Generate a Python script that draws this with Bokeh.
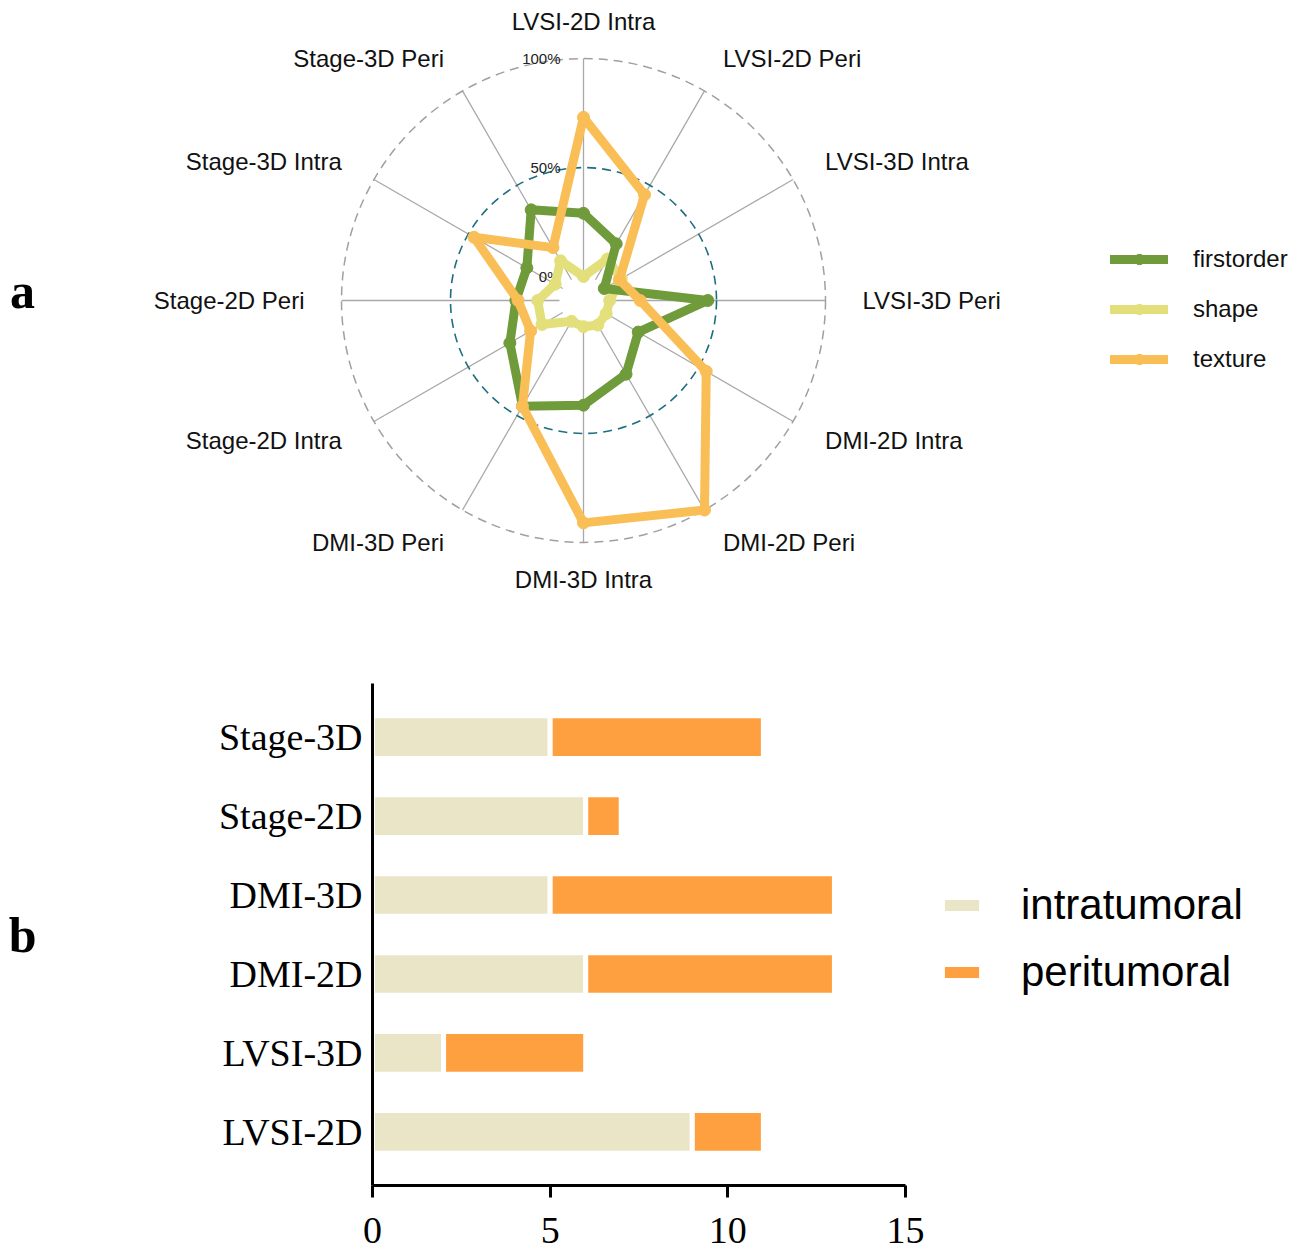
import numpy as np
from bokeh.plotting import figure
from bokeh.layouts import row
from bokeh.models import (Range1d, Legend, LegendItem, Label, FixedTicker, ColumnDataSource,
                          LinearAxis)
from bokeh.core.properties import value
from bokeh.embed import file_html
from bokeh.resources import INLINE

# ---------------- data ----------------
spoke_labels = ["LVSI-2D Intra", "LVSI-2D Peri", "LVSI-3D Intra", "LVSI-3D Peri",
                "DMI-2D Intra", "DMI-2D Peri", "DMI-3D Intra", "DMI-3D Peri",
                "Stage-2D Intra", "Stage-2D Peri", "Stage-3D Intra", "Stage-3D Peri"]
firstorder = [0.29, 0.19, 0.00, 0.46, 0.18, 0.28, 0.37, 0.45, 0.28, 0.20, 0.19, 0.37]
shape = [0.00, 0.11, 0.09, 0.01, 0.01, 0.02, 0.01, 0.00, 0.11, 0.10, 0.04, 0.10]
texture = [0.73, 0.45, 0.08, 0.15, 0.54, 1.00, 0.91, 0.45, 0.17, 0.19, 0.47, 0.17]
radial_ticks = [0.0, 0.5, 1.0]
radial_tick_labels = ["0%", "50%", "100%"]

models = ["LVSI-2D", "LVSI-3D", "DMI-2D", "DMI-3D", "Stage-2D", "Stage-3D"]
intratumoral = [9, 2, 6, 5, 6, 5]
peritumoral = [2, 4, 7, 8, 1, 6]
count_ticks = [0, 5, 10, 15]

# ---------------- radar (panel a) ----------------
SANS = value("Liberation Sans")
R0, R1, R_LABEL = 24.0, 242.0, 279.0     # radial scale: 0% .. 100%, label ring (px)


def radius(v):
    return R0 + (R1 - R0) * np.asarray(v, dtype=float)


n = len(spoke_labels)
theta = 2 * np.pi * np.arange(n) / n      # clockwise from 12 o'clock

pa = figure(width=1308, height=620, x_range=Range1d(-583, 725), y_range=Range1d(-320, 300),
            x_axis_location=None, y_axis_location=None, min_border=0,
            output_backend="svg", toolbar_location=None, outline_line_color=None)
pa.grid.visible = False

# spokes
pa.segment(x0=R0 * np.sin(theta), y0=R0 * np.cos(theta),
           x1=R1 * np.sin(theta), y1=R1 * np.cos(theta),
           line_color="#a9a9a9", line_width=1.3)
# outer (100%) ring and 50% ring
pa.circle(x=[0], y=[0], radius=[float(radius(1.0))], fill_color=None,
          line_color="#a0a0a0", line_width=1.5, line_dash="9 6")
pa.circle(x=[0], y=[0], radius=[float(radius(0.5))], fill_color=None,
          line_color="#1d6f7f", line_width=1.6, line_dash="9 6")

# radial tick labels along the top spoke
pa.text(x=[0] * len(radial_ticks), y=radius(radial_ticks), text=radial_tick_labels,
        x_offset=-23, text_align="right", text_baseline="middle",
        text_font=SANS, text_font_size="15px", text_color="#222222")

# spoke labels
align = ["center" if i in (0, n // 2) else ("left" if i < n // 2 else "right") for i in range(n)]
pa.text(x=R_LABEL * np.sin(theta), y=R_LABEL * np.cos(theta), text=spoke_labels,
        text_align=align, text_baseline="middle",
        text_font=SANS, text_font_size="24px", text_color="#111111")

series = {"firstorder": (firstorder, "#6f9b3a"),
          "shape": (shape, "#e3e07c"),
          "texture": (texture, "#f9be55")}
renderers = {}
for name in ["shape", "firstorder", "texture"]:
    vals, color = series[name]
    r = radius(vals)
    xs = np.append(r * np.sin(theta), r[0] * np.sin(theta[0]))
    ys = np.append(r * np.cos(theta), r[0] * np.cos(theta[0]))
    ln = pa.line(xs, ys, line_color=color, line_width=9, line_join="round", line_cap="round")
    mk = pa.scatter(r * np.sin(theta), r * np.cos(theta), size=12,
                    fill_color=color, line_color=color)
    renderers[name] = [ln, mk]

leg_a = Legend(items=[LegendItem(label=k, renderers=renderers[k]) for k in series],
               location=(1110, 247), glyph_width=58, glyph_height=26, label_height=26,
               label_standoff=25, spacing=22, padding=0, margin=0,
               label_text_font="Liberation Sans", label_text_font_size="24px",
               label_text_color="#111111", border_line_color=None, background_fill_alpha=0)
pa.add_layout(leg_a)

pa.add_layout(Label(x=22, y=330, x_units="screen", y_units="screen", text="a",
                    text_align="center", text_baseline="middle", text_font="Liberation Serif",
                    text_font_style="bold", text_font_size="50px", text_color="black"))

# ---------------- stacked bars (panel b) ----------------
SERIF = "Liberation Serif"
INTRA_COLOR, PERI_COLOR = "#ebe5c8", "#ffa040"
pos = list(range(len(models)))
src = ColumnDataSource(dict(y=pos, intra=intratumoral,
                            total=[a + b for a, b in zip(intratumoral, peritumoral)]))

pb = figure(width=925, height=625, x_range=Range1d(0, 15), y_range=Range1d(-0.68, 5.68),
            min_border_left=372, min_border_right=20, min_border_top=63, min_border_bottom=60,
            output_backend="svg", toolbar_location=None, outline_line_color=None)
pb.grid.visible = False

pb.hbar(y="y", left=0, right="intra", height=0.54, source=src,
        fill_color=INTRA_COLOR, line_color="white", line_width=5)
pb.hbar(y="y", left="intra", right="total", height=0.54, source=src,
        fill_color=PERI_COLOR, line_color="white", line_width=5)

pb.xaxis.ticker = FixedTicker(ticks=count_ticks)
pb.xaxis.minor_tick_line_color = None
pb.xaxis.major_tick_in = 0
pb.xaxis.major_tick_out = 12
pb.xaxis.major_tick_line_width = 3
pb.xaxis.major_label_standoff = 20
pb.xaxis.major_label_text_font = SERIF
pb.xaxis.major_label_text_font_size = "38px"

pb.yaxis.ticker = FixedTicker(ticks=pos)
pb.yaxis.major_label_overrides = {i: m for i, m in zip(pos, models)}
pb.yaxis.minor_tick_line_color = None
pb.yaxis.major_tick_line_color = None
pb.yaxis.major_tick_in = 0
pb.yaxis.major_tick_out = 0
pb.yaxis.major_label_standoff = 10
pb.yaxis.major_label_text_font = SERIF
pb.yaxis.major_label_text_font_size = "38px"

for ax in (pb.xaxis, pb.yaxis):
    ax.axis_line_width = 3
    ax.axis_line_color = "black"
    ax.major_label_text_color = "black"

# panel letter, carried by a bare axis on the far left
pb.extra_y_ranges = {"tag": Range1d(0, 502)}
tag_axis = LinearAxis(y_range_name="tag", ticker=FixedTicker(ticks=[]),
                      axis_line_color=None, major_tick_line_color=None,
                      minor_tick_line_color=None, major_tick_out=0, minor_tick_out=0,
                      major_label_standoff=0, axis_label="b",
                      axis_label_orientation="horizontal", axis_label_standoff=179,
                      axis_label_text_font=SERIF, axis_label_text_font_style="bold",
                      axis_label_text_font_size="50px", axis_label_text_color="black")
pb.add_layout(tag_axis, "left")

# key for panel b, in its own pixel-scaled strip to the right of the bars;
# its swatch renderers share the bar data but stay hidden
pk = figure(width=383, height=625, x_range=Range1d(0, 383), y_range=Range1d(0, 502),
            x_axis_location=None, y_axis_location=None,
            min_border_left=0, min_border_right=0, min_border_top=63, min_border_bottom=60,
            output_backend="svg", toolbar_location=None, outline_line_color=None)
pk.grid.visible = False
k_intra = pk.hbar(y="y", left=0, right="intra", height=0.54, source=src,
                  fill_color=INTRA_COLOR, line_color="white", line_width=5, visible=False)
k_peri = pk.hbar(y="y", left="intra", right="total", height=0.54, source=src,
                 fill_color=PERI_COLOR, line_color="white", line_width=5, visible=False)
leg_b = Legend(items=[LegendItem(label="intratumoral", renderers=[k_intra]),
                      LegendItem(label="peritumoral", renderers=[k_peri])],
               location=(12, 188), glyph_width=49, glyph_height=20, label_height=50,
               label_standoff=35, spacing=17, padding=0, margin=0,
               label_text_font="Liberation Sans", label_text_font_size="42px",
               label_text_color="black", border_line_color=None, background_fill_alpha=0,
               inactive_fill_alpha=0)
pk.add_layout(leg_b)

open("out.html", "w").write(file_html([pa, row(pb, pk)], INLINE))
